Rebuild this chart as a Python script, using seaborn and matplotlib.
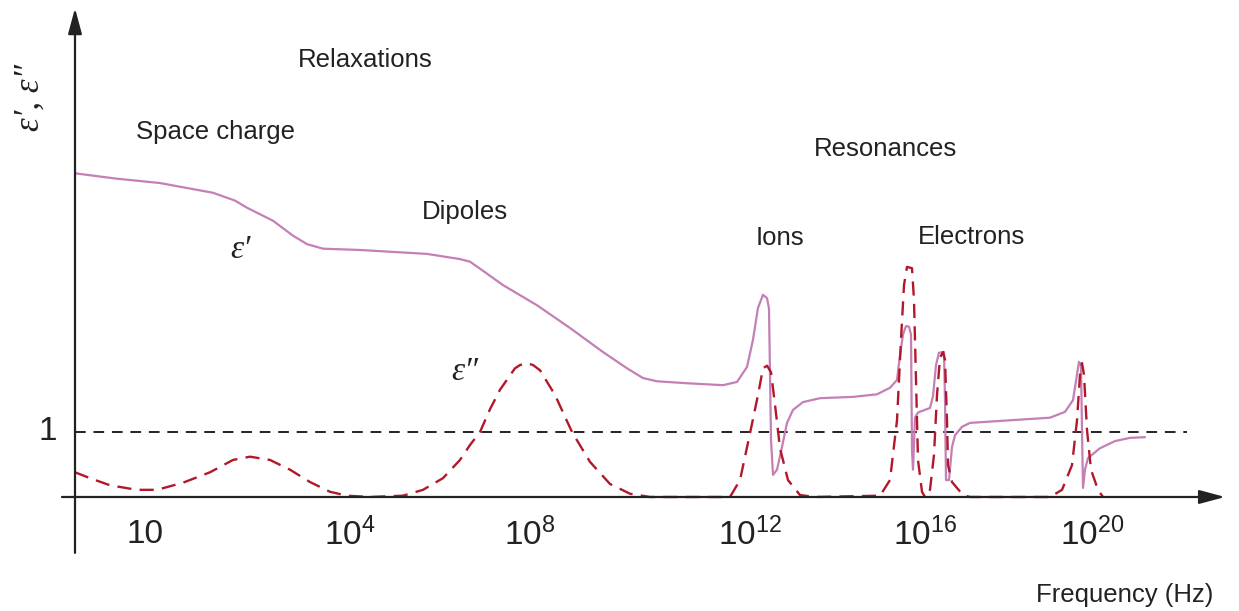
import matplotlib
matplotlib.use("Agg")
import matplotlib.pyplot as plt
import seaborn as sns
import pandas as pd

# ---------------- data (schematic position units along x, value units along y) -------------
eps1_x = [0, 40, 85, 138, 160, 172, 198, 218, 232, 248, 285, 352, 385, 395, 408, 428, 462,
          495, 528, 552, 568, 582, 612, 648, 662, 672, 678, 683, 688, 692, 694, 696, 698, 702,
          707, 712, 718, 728, 745, 778, 802, 815, 822, 825, 828, 831, 834, 836, 837, 838, 840,
          843, 855, 858, 861, 864, 869, 870, 871, 874, 877, 880, 887, 895, 975, 990, 998, 1002,
          1004, 1006, 1007, 1008, 1010, 1013, 1025, 1040, 1055, 1070]
eps1_y = [4.98, 4.90, 4.83, 4.68, 4.56, 4.45, 4.25, 4.02, 3.89, 3.82, 3.80, 3.74, 3.66, 3.62,
          3.48, 3.26, 2.95, 2.60, 2.23, 1.98, 1.83, 1.78, 1.75, 1.72, 1.77, 2.00, 2.42, 2.91,
          3.11, 3.06, 2.90, 0.88, 0.34, 0.42, 0.77, 1.14, 1.34, 1.46, 1.52, 1.54, 1.58, 1.68,
          1.80, 2.18, 2.50, 2.63, 2.62, 2.50, 0.72, 0.42, 1.22, 1.30, 1.37, 1.55, 2.03, 2.22,
          2.23, 1.49, 0.26, 0.26, 0.77, 0.95, 1.08, 1.14, 1.22, 1.31, 1.49, 1.88, 2.08, 2.02,
          1.03, 0.14, 0.42, 0.60, 0.75, 0.86, 0.91, 0.92]

eps2_x = [0, 15, 35, 62, 82, 108, 135, 158, 175, 195, 215, 235, 255, 272, 295, 328, 348, 368,
          385, 395, 405, 415, 425, 440, 445, 452, 458, 465, 480, 497, 515, 535, 555, 575, 655,
          665, 675, 683, 688, 692, 696, 700, 705, 713, 725, 740, 805, 815, 822, 826, 829, 832,
          837, 839, 841, 843, 847, 850, 855, 859, 862, 865, 868, 870, 872, 873, 877, 888, 895,
          975, 987, 997, 1002, 1005, 1007, 1009, 1012, 1016, 1023, 1028]
eps2_y = [0.38, 0.29, 0.18, 0.11, 0.11, 0.22, 0.38, 0.57, 0.62, 0.57, 0.42, 0.23, 0.08, 0.02,
          0.00, 0.02, 0.11, 0.29, 0.57, 0.80, 1.00, 1.35, 1.65, 1.98, 2.03, 2.06, 2.03, 1.95,
          1.57, 1.00, 0.54, 0.20, 0.05, 0.00, 0.00, 0.26, 0.98, 1.57, 1.98, 2.02, 1.92, 1.42,
          0.75, 0.26, 0.03, 0.00, 0.02, 0.26, 1.18, 2.42, 3.26, 3.54, 3.52, 3.03, 1.80, 0.57,
          0.08, 0.00, 0.11, 0.65, 1.57, 2.14, 2.23, 2.11, 1.18, 0.49, 0.23, 0.03, 0.00, 0.00,
          0.11, 0.49, 1.18, 1.88, 2.06, 1.88, 1.03, 0.42, 0.11, 0.00]

tick_pos = [70, 275, 455, 675, 850, 1017]
tick_labels = ["10", r"$\mathregular{10^{4}}$", r"$\mathregular{10^{8}}$",
               r"$\mathregular{10^{12}}$", r"$\mathregular{10^{16}}$", r"$\mathregular{10^{20}}$"]
ref_level = 1

df1 = pd.DataFrame({"x": eps1_x, "y": eps1_y})
df2 = pd.DataFrame({"x": eps2_x, "y": eps2_y})

# ---------------- style ----------------
sns.set_theme(style="white")
plt.rcParams["font.family"] = ["Liberation Sans", "DejaVu Sans"]
plt.rcParams["mathtext.fontset"] = "custom"
plt.rcParams["mathtext.rm"] = "Liberation Sans"
plt.rcParams["mathtext.it"] = "Liberation Sans:italic"

fig = plt.figure(figsize=(12.39, 6.11), dpi=100)
ax = fig.add_axes([0, 0, 1, 1])
ax.set_xlim(-75, 1164)
ax.set_ylim(-1.754, 7.646)
ax.axis("off")

# reference line at 1
ax.hlines(ref_level, 0, 1112, colors="#222222", linewidth=1.4, linestyles=(0, (5.5, 4)))

sns.lineplot(data=df1, x="x", y="y", ax=ax, color="#c47fb4", linewidth=1.6,
             sort=False, estimator=None)
sns.lineplot(data=df2, x="x", y="y", ax=ax, color="#b2182b", linewidth=1.7,
             sort=False, estimator=None, linestyle=(0, (6, 3.5)))
ax.set_xlabel("")
ax.set_ylabel("")

# axes with arrows
arrow = dict(arrowstyle="-|>,head_length=1.3,head_width=0.35", color="#222222", lw=1.6,
             shrinkA=0, shrinkB=0)
ax.annotate("", xy=(0, 7.52), xytext=(0, -0.86), arrowprops=arrow)
ax.annotate("", xy=(1150, 0), xytext=(-13, 0), arrowprops=arrow)

# tick labels
for p, lab in zip(tick_pos, tick_labels):
    ax.text(p, -0.58, lab, ha="center", va="center", fontsize=24, color="#222222")
ax.text(-27, ref_level, "1", ha="center", va="center", fontsize=24, color="#222222")

# axis titles
ax.text(1050, -1.51, "Frequency (Hz)", ha="center", va="center", fontsize=18.5, color="#222222")
greek = dict(family=["Liberation Serif", "DejaVu Serif"], style="italic", color="#222222")
ax.text(-45, 6.15, "ε′, ε″", rotation=90, ha="center", va="center", fontsize=25, **greek)

# annotations
lab = dict(ha="center", va="center", fontsize=18.5, color="#222222")
ax.text(290, 6.72, "Relaxations", **lab)
ax.text(140, 5.62, "Space charge", **lab)
ax.text(810, 5.35, "Resonances", **lab)
ax.text(390, 4.38, "Dipoles", **lab)
ax.text(705, 3.98, "Ions", **lab)
ax.text(897, 4.00, "Electrons", **lab)
ax.text(165, 3.80, "ε′", ha="center", va="center", fontsize=24, **greek)
ax.text(390, 1.92, "ε″", ha="center", va="center", fontsize=24, **greek)

fig.savefig("out.png", dpi=100)
